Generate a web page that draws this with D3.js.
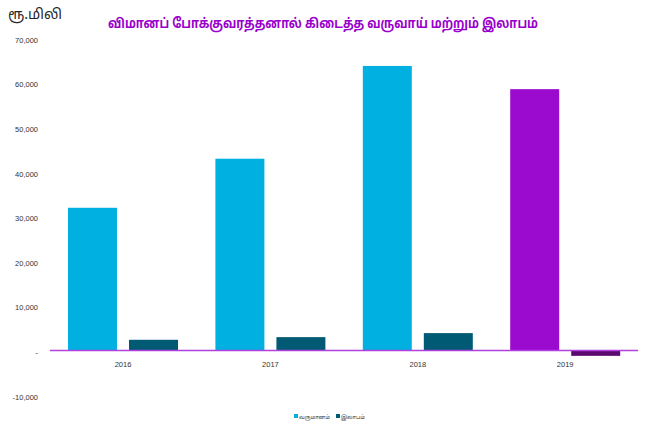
<!DOCTYPE html>
<html>
<head>
<meta charset="utf-8">
<script src="https://cdn.jsdelivr.net/npm/d3@7"></script>
<style>
  html, body { margin: 0; padding: 0; background: #fff; }
  svg { display: block; font-family: "Noto Sans Tamil", "Noto Sans", "Liberation Sans", sans-serif; }
</style>
</head>
<body>
<svg id="chart" width="647" height="427"></svg>
<script>
const titleText = "விமானப் போக்குவரத்தனால் கிடைத்த வருவாய் மற்றும் இலாபம்";
const unitText = "ரூ.மிலி";
const categories = ["2016", "2017", "2018", "2019"];
const seriesNames = ["வருமானம்", "இலாபம்"];
const revenue = [32000, 43000, 63800, 58600];
const profit = [2400, 3000, 3900, -1200];
const tickValues = [70000, 60000, 50000, 40000, 30000, 20000, 10000, 0, -10000];
const tickLabels = ["70,000", "60,000", "50,000", "40,000", "30,000", "20,000", "10,000", "-", "-10,000"];

const colors = { rev: "#00b0e0", prof: "#005a73", rev19: "#9b0bcf", prof19: "#5c0a70" };

const svg = d3.select("#chart");

const x0 = d3.scaleBand().domain(categories).range([49.3, 638.9]).paddingInner(0).paddingOuter(0);
const x1 = d3.scaleBand().domain(seriesNames).range([0, x0.bandwidth()]).paddingInner(0.197).paddingOuter(0.3066);
const y = d3.scaleLinear().domain([-10000, 70000]).range([395.1, 38.3]);

// unit
svg.append("text").attr("x", 8).attr("y", 19).attr("font-size", 14.5).attr("fill", "#262626")
  .attr("textLength", 54).attr("lengthAdjust", "spacingAndGlyphs").text(unitText);
// title
svg.append("text").attr("x", 108).attr("y", 28)
  .attr("font-size", 13.5).attr("font-weight", "bold").attr("fill", "#9900cc")
  .attr("textLength", 430).attr("lengthAdjust", "spacingAndGlyphs").text(titleText);

// y axis labels
const yAxis = d3.axisLeft(y).tickValues(tickValues).tickSize(0).tickPadding(0)
  .tickFormat((d, i) => tickLabels[i]);
const gy = svg.append("g").attr("transform", "translate(38,1.5)").call(yAxis);
gy.select(".domain").remove();
gy.selectAll("text").attr("font-size", 7.5).attr("fill", "#333").attr("font-family", "Liberation Sans, sans-serif");

// bars
const data = categories.map((c, i) => ({ cat: c, vals: [
  { s: seriesNames[0], v: revenue[i], color: c === "2019" ? colors.rev19 : colors.rev },
  { s: seriesNames[1], v: profit[i], color: c === "2019" ? colors.prof19 : colors.prof }
]}));

const g = svg.append("g");
g.selectAll("g.cat").data(data).join("g").attr("class", "cat")
  .attr("transform", d => `translate(${x0(d.cat)},0)`)
  .selectAll("rect").data(d => d.vals).join("rect")
  .attr("x", d => x1(d.s))
  .attr("width", x1.bandwidth())
  .attr("y", d => y(Math.max(0, d.v)))
  .attr("height", d => Math.abs(y(d.v) - y(0)))
  .attr("fill", d => d.color);

// zero line
svg.append("line").attr("x1", 50).attr("x2", 638).attr("y1", y(0)).attr("y2", y(0))
  .attr("stroke", "#b040e0").attr("stroke-width", 1.3);

// x labels
const xAxis = d3.axisBottom(x0).tickSize(0).tickPadding(0);
const gx = svg.append("g").attr("transform", "translate(0,367)").call(xAxis);
gx.select(".domain").remove();
gx.selectAll("text").attr("font-size", 7.5).attr("fill", "#333").attr("dy", 0).attr("font-family", "Liberation Sans, sans-serif");

// legend
const legend = svg.append("g").attr("transform", "translate(0,418)");
const legendItems = [
  { name: seriesNames[0], color: colors.rev, x: 294, w: 31 },
  { name: seriesNames[1], color: colors.prof, x: 336, w: 24 }
];
legendItems.forEach(it => {
  legend.append("rect").attr("x", it.x).attr("y", -4).attr("width", 4).attr("height", 4).attr("fill", it.color);
  legend.append("text").attr("x", it.x + 5).attr("y", 1).attr("font-size", 6).attr("fill", "#404040")
    .attr("textLength", it.w).attr("lengthAdjust", "spacingAndGlyphs").text(it.name);
});
</script>
</body>
</html>
